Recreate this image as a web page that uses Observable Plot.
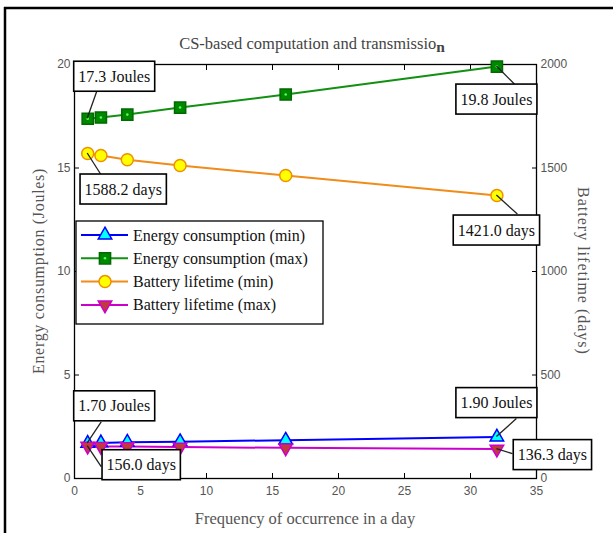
<!DOCTYPE html>
<html><head><meta charset="utf-8">
<script src="https://cdn.jsdelivr.net/npm/d3@7"></script>
<script src="https://cdn.jsdelivr.net/npm/@observablehq/plot@0.6"></script>
<style>body{margin:0;background:#fff} svg{display:block}</style>
</head><body><div id="chart"></div>
<script>
// ---- data ----
const frequencies = [1, 2, 4, 8, 16, 32];
const energyMin = [1.70, 1.72, 1.75, 1.78, 1.85, 2.00];        // Joules
const energyMax = [17.38, 17.44, 17.58, 17.92, 18.55, 19.9];   // Joules
const batteryMin = [1570, 1560, 1540, 1512, 1464, 1367];       // days
const batteryMax = [156, 155, 154, 152, 148, 142];             // days
const xTicks = [0, 5, 10, 15, 20, 25, 30, 35];
const yTicksLeft = [0, 5, 10, 15, 20];
const yTicksRight = [0, 500, 1000, 1500, 2000];
const seriesNames = ["Energy consumption (min)", "Energy consumption (max)", "Battery lifetime (min)", "Battery lifetime (max)"];
const annotationTexts = ["17.3 Joules", "1588.2 days", "19.8 Joules", "1421.0 days", "1.70 Joules", "156.0 days", "1.90 Joules", "136.3 days"];
const annotationSeries = [1, 2, 1, 2, 0, 3, 0, 3];
const annotationPoint = [0, 0, 5, 5, 0, 0, 5, 5];
const titleText = "CS-based computation and transmissio";
const titleSub = "n";
const xLabel = "Frequency of occurrence in a day";
const yLabelLeft = "Energy consumption (Joules)";
const yLabelRight = "Battery lifetime (days)";

// ---- layout / style (not data) ----
const daysPerJoule = 100; // right axis 0..2000 shares the left 0..20 scale
const seriesValues = [energyMin, energyMax, batteryMin.map(d => d / daysPerJoule), batteryMax.map(d => d / daysPerJoule)];
const triDown = {
  draw(context, size) {
    const s3 = Math.sqrt(3);
    const y = -Math.sqrt(size / (s3 * 3));
    context.moveTo(0, -y * 2);
    context.lineTo(-s3 * y, y);
    context.lineTo(s3 * y, y);
    context.closePath();
  }
};
const styles = [
  {line: "#0000ff", fill: "#00ffff", stroke: "#0000ff", symbol: d3.symbolTriangle, r: 5},
  {line: "#129012", fill: "#008800", stroke: "#006a00", symbol: d3.symbolSquare, r: 6.3},
  {line: "#f08c1a", fill: "#ffff00", stroke: "#f09000", symbol: d3.symbolCircle, r: 6},
  {line: "#cc00cc", fill: "#c23a3a", stroke: "#cc00cc", symbol: triDown, r: 5}
];
// label box center offsets and leader end offsets (pixels, relative to the point)
const annLayout = [
  {dx: 27, dy: -42, lx: 11, ly: -31},
  {dx: 36, dy: 36, lx: 14, ly: 22},
  {dx: 0, dy: 33, lx: 18, ly: 18},
  {dx: 0, dy: 35, lx: 21, ly: 19},
  {dx: 27, dy: -37, lx: 14, ly: -21},
  {dx: 54, dy: 19, lx: 14, ly: 21},
  {dx: 0, dy: -34, lx: 20, ly: -18},
  {dx: 56, dy: 6, lx: 16, ly: 5}
];

const rows = seriesValues.map((vals, s) => frequencies.map((f, i) => ({s, x: f, y: vals[i]})));

const marks = [];
rows.forEach((r, s) => {
  marks.push(Plot.line(r, {x: "x", y: "y", stroke: styles[s].line, strokeWidth: 2}));
});
rows.forEach((r, s) => {
  marks.push(Plot.dot(r, {x: "x", y: "y", symbol: styles[s].symbol, r: styles[s].r, fill: styles[s].fill, stroke: styles[s].stroke, strokeWidth: 1.5}));
});
marks.push(Plot.dot(rows[1], {x: "x", y: "y", r: 1.3, fill: "#55ff55", stroke: "none"}));

const chart = Plot.plot({
  width: 613,
  height: 533,
  marginLeft: 74,
  marginRight: 77,
  marginTop: 64,
  marginBottom: 55,
  style: {fontFamily: "'Liberation Sans', Arial, sans-serif", fontSize: "12px", background: "white", color: "#555"},
  x: {domain: [0, 35]},
  y: {domain: [0, 20]},
  marks: [
    Plot.frame({stroke: "black", strokeWidth: 1.3}),
    Plot.axisX({anchor: "bottom", ticks: xTicks, tickSize: -5, tickPadding: 13, label: null, stroke: "black", fill: "#555"}),
    Plot.axisX({anchor: "top", ticks: xTicks, tickSize: -5, tickFormat: () => "", label: null, stroke: "black"}),
    Plot.axisY({anchor: "left", ticks: yTicksLeft, tickSize: -5, tickPadding: 9, label: null, stroke: "black", fill: "#555"}),
    Plot.axisY({anchor: "right", ticks: yTicksRight.map(d => d / daysPerJoule), tickFormat: d => String(d * daysPerJoule), tickSize: -5, tickPadding: 9, label: null, stroke: "black", fill: "#555"}),
    ...marks
  ]
});
document.getElementById("chart").appendChild(chart);

// ---- post-process decorations with d3, using the plot's own scales ----
const svg = d3.select(chart);
const sx = chart.scale("x"), sy = chart.scale("y");
const serif = "'Liberation Serif', 'Times New Roman', serif";

// outer page frame (left and top)
svg.append("line").attr("x1", 5).attr("x2", 5).attr("y1", 7).attr("y2", 533).attr("stroke", "black").attr("stroke-width", 2.5);
svg.append("line").attr("x1", 4).attr("x2", 613).attr("y1", 8).attr("y2", 8).attr("stroke", "black").attr("stroke-width", 2.5);

// title
const t = svg.append("text").attr("x", 312).attr("y", 49).attr("text-anchor", "middle")
  .attr("font-family", serif).attr("font-size", 16.5).attr("fill", "#444");
t.append("tspan").text(titleText);
t.append("tspan").attr("dy", 3).attr("font-weight", "bold").attr("font-size", 15.5).text(titleSub);

// axis titles
const x0 = sx.apply(0), x1 = sx.apply(35), y0 = sy.apply(0), y1 = sy.apply(20);
svg.append("text").attr("x", (x0 + x1) / 2).attr("y", 524).attr("text-anchor", "middle")
  .attr("font-family", serif).attr("font-size", 16.5).attr("fill", "#555").text(xLabel);
svg.append("text").attr("transform", `translate(44,${(y0 + y1) / 2}) rotate(-90)`).attr("text-anchor", "middle")
  .attr("font-family", serif).attr("font-size", 16).attr("letter-spacing", 0.7).attr("fill", "#555").text(yLabelLeft);
svg.append("text").attr("transform", `translate(578,${(y0 + y1) / 2}) rotate(90)`).attr("text-anchor", "middle")
  .attr("font-family", serif).attr("font-size", 16).attr("letter-spacing", 1).attr("fill", "#555").text(yLabelRight);

// annotations
const ann = svg.append("g");
annotationTexts.forEach((label, k) => {
  const s = annotationSeries[k], i = annotationPoint[k];
  const px = sx.apply(frequencies[i]), py = sy.apply(seriesValues[s][i]);
  const L = annLayout[k];
  ann.append("line").attr("x1", px).attr("y1", py).attr("x2", px + L.lx).attr("y2", py + L.ly)
    .attr("stroke", "#222").attr("stroke-width", 1.3);
  const g = ann.append("g");
  const rect = g.append("rect");
  const txt = g.append("text").attr("x", px + L.dx).attr("y", py + L.dy).attr("text-anchor", "middle")
    .attr("dominant-baseline", "central").attr("font-family", serif).attr("font-size", 16).attr("fill", "#111").text(label);
  const bb = txt.node().getBBox();
  const w = bb.width + 9, h = 30;
  rect.attr("x", px + L.dx - w / 2).attr("y", py + L.dy - h / 2).attr("width", w).attr("height", h)
    .attr("fill", "white").attr("stroke", "black").attr("stroke-width", 1.6);
});

// legend
const lg = svg.append("g");
const lgX = 76, lgY = 221, lgW = 247, lgH = 103;
lg.append("rect").attr("x", lgX).attr("y", lgY).attr("width", lgW).attr("height", lgH)
  .attr("fill", "white").attr("stroke", "black").attr("stroke-width", 1.3);
seriesNames.forEach((name, s) => {
  const cy = lgY + 14 + s * 23.3;
  const st = styles[s];
  lg.append("line").attr("x1", lgX + 5).attr("x2", lgX + 52).attr("y1", cy).attr("y2", cy).attr("stroke", st.line).attr("stroke-width", 2);
  lg.append("path").attr("transform", `translate(${lgX + 29},${cy})`)
    .attr("d", d3.symbol().type(st.symbol).size(Math.PI * st.r * st.r)())
    .attr("fill", st.fill).attr("stroke", st.stroke).attr("stroke-width", 1.5);
  if (s === 1) lg.append("circle").attr("cx", lgX + 29).attr("cy", cy).attr("r", 1.3).attr("fill", "#55ff55");
  lg.append("text").attr("x", lgX + 57).attr("y", cy).attr("text-anchor", "start").attr("dominant-baseline", "central")
    .attr("font-family", serif).attr("font-size", 16).attr("fill", "#111").text(name);
});
</script>
</body></html>
